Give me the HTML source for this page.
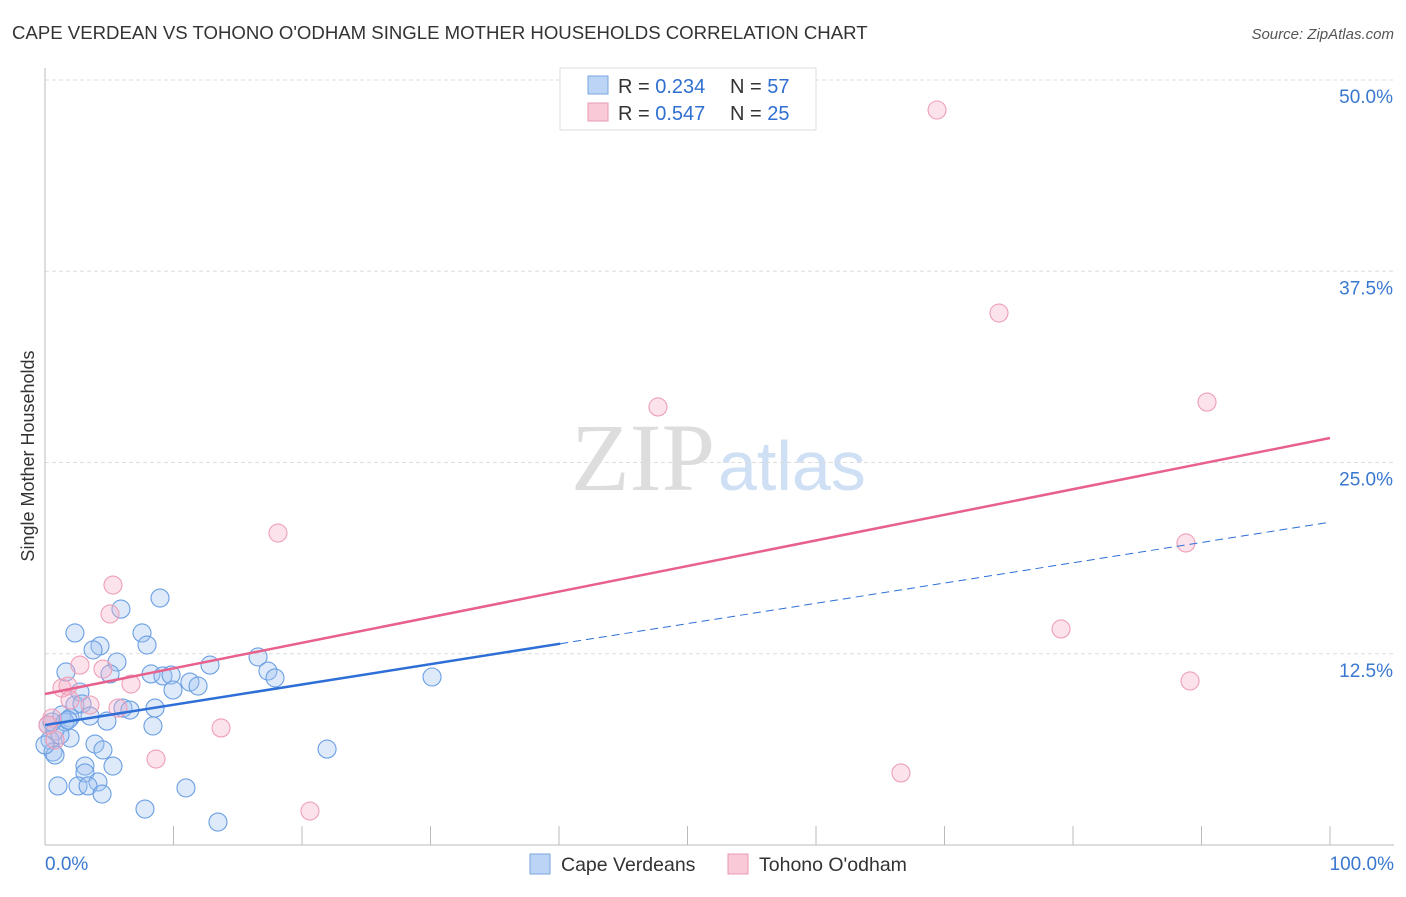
<!DOCTYPE html>
<html><head><meta charset="utf-8"><style>
body{margin:0;background:#fff;font-family:"Liberation Sans",sans-serif;}
</style></head><body>
<svg width="1406" height="892" xmlns="http://www.w3.org/2000/svg" font-family="Liberation Sans, sans-serif">
<text x="12" y="39" font-size="18.6" fill="#333">CAPE VERDEAN VS TOHONO O'ODHAM SINGLE MOTHER HOUSEHOLDS CORRELATION CHART</text>
<text x="1394" y="39" font-size="15" fill="#555" font-style="italic" text-anchor="end">Source: ZipAtlas.com</text>
<text x="715" y="490" font-size="96" font-family="Liberation Serif, serif" fill="#ddd" text-anchor="end">ZIP</text>
<text x="718" y="490" font-size="70" fill="#cfe0f5">atlas</text>
<g id="grid"></g>
<line x1="45" y1="68" x2="45" y2="845" stroke="#bbb"/>
<line x1="45" y1="845" x2="1394" y2="845" stroke="#bbb"/>
<g id="xticks"></g>
<text x="45" y="870" font-size="19" fill="#3a78d0">0.0%</text>
<text x="1394" y="870" font-size="19" fill="#3a78d0" text-anchor="end">100.0%</text>
<text transform="translate(34,456) rotate(-90)" font-size="18" fill="#333" text-anchor="middle">Single Mother Households</text>
<g id="marks"></g>
<g id="lines"></g>
<g>
<rect x="560" y="68" width="256" height="62" fill="#fff" stroke="#ddd"/>
<rect x="588" y="76" width="20" height="18" fill="#bcd4f5" stroke="#7aa6e0"/>
<text x="618" y="93" font-size="20" fill="#333">R = <tspan fill="#2f6fd0">0.234</tspan></text>
<text x="730" y="93" font-size="20" fill="#333">N = <tspan fill="#2f6fd0">57</tspan></text>
<rect x="588" y="103" width="20" height="18" fill="#f9c9d7" stroke="#e89ab2"/>
<text x="618" y="120" font-size="20" fill="#333">R = <tspan fill="#2f6fd0">0.547</tspan></text>
<text x="730" y="120" font-size="20" fill="#333">N = <tspan fill="#2f6fd0">25</tspan></text>
</g>
<g>
<rect x="530" y="854" width="20" height="20" fill="#bcd4f5" stroke="#7aa6e0"/>
<text x="561" y="871" font-size="19.5" fill="#333">Cape Verdeans</text>
<rect x="728" y="854" width="20" height="20" fill="#f9c9d7" stroke="#e89ab2"/>
<text x="759" y="871" font-size="19.5" fill="#333">Tohono O'odham</text>
</g>
</svg>
<script>
const yTicks=[12.5,25,37.5,50];
const yTickLabels=["12.5%","25.0%","37.5%","50.0%"];
const xTicks=[0,10,20,30,40,50,60,70,80,90,100];
const blueX=[8.95,5.91,2.33,7.55,4.28,7.94,3.74,5.60,1.63,5.06,8.25,9.18,9.81,12.84,16.58,17.35,17.90,11.28,9.96,11.91,2.72,1.32,1.95,2.33,2.88,3.50,4.82,6.07,6.61,8.56,8.40,0.23,0.78,0.39,0.62,0.78,1.95,3.89,4.51,3.11,5.29,3.11,4.12,1.01,2.57,3.35,4.44,7.78,10.97,13.46,21.95,30.12,1.56,1.17,0.0,0.54,1.79];
const blueY=[16.14,15.42,13.86,13.86,13.01,13.07,12.75,11.96,11.31,11.18,11.18,11.05,11.11,11.76,12.29,11.37,10.92,10.65,10.13,10.39,10.0,8.50,8.30,9.15,9.22,8.43,8.10,8.95,8.82,8.95,7.78,7.84,7.45,6.86,6.08,5.88,6.99,6.60,6.21,5.16,5.16,4.71,4.12,3.86,3.86,3.86,3.33,2.35,3.73,1.50,6.27,10.98,8.04,7.19,6.54,8.04,8.17];
const pinkX=[69.42,74.24,47.70,90.43,18.13,88.79,5.29,5.06,79.07,2.72,4.51,89.11,6.69,1.32,1.79,3.50,5.68,0.54,13.70,8.64,66.61,20.62,0.78,0.23,1.95];
const pinkY=[48.04,34.77,28.63,28.95,20.39,19.74,16.99,15.10,14.12,11.76,11.50,10.72,10.52,10.26,10.39,9.15,8.95,8.30,7.65,5.62,4.71,2.22,6.86,7.84,9.48];
const pinkTrend=[9.87,26.6];
const blueTrend=[7.84,21.1];
const blueSolidEnd=40.1;
const NS="http://www.w3.org/2000/svg";
const sx=v=>45+v*12.85, sy=v=>845-v*15.3;
function mk(t,a,p){const e=document.createElementNS(NS,t);for(const k in a)e.setAttribute(k,a[k]);document.getElementById(p).appendChild(e);return e;}
yTicks.forEach((t,i)=>{
 const l=mk('line',{x1:45,x2:1394,y1:sy(t),y2:sy(t),stroke:'#ddd','stroke-dasharray':'4,3'},'grid');
 
 
 const tx=mk('text',{x:1393,y:sy(t)+23,'font-size':19,fill:'#3a78d0','text-anchor':'end'},'grid');
 tx.textContent=yTickLabels[i];
 
 
});
xTicks.forEach(t=>{
 const l=mk('line',{x1:sx(t),x2:sx(t),y1:826,y2:845,stroke:'#bbb'},'xticks');
 
 
});
blueX.forEach((x,i)=>{
 const c=mk('circle',{cx:sx(x),cy:sy(blueY[i]),r:9,fill:'rgba(160,195,240,0.35)',stroke:'#6a9fe3','stroke-width':1.1},'marks');
 
 
});
pinkX.forEach((x,i)=>{
 const c=mk('circle',{cx:sx(x),cy:sy(pinkY[i]),r:9,fill:'rgba(245,175,198,0.35)',stroke:'#ee9fb8','stroke-width':1.1},'marks');
 
 
});
const bAt=x=>blueTrend[0]+(blueTrend[1]-blueTrend[0])*x/100;
let l1=mk('line',{x1:sx(0),y1:sy(pinkTrend[0]),x2:sx(100),y2:sy(pinkTrend[1]),stroke:'#e8608c','stroke-width':2.5},'lines');


let l2=mk('line',{x1:sx(0),y1:sy(bAt(0)),x2:sx(blueSolidEnd),y2:sy(bAt(blueSolidEnd)),stroke:'#2d6fd6','stroke-width':2.5},'lines');


let l3=mk('line',{x1:sx(blueSolidEnd),y1:sy(bAt(blueSolidEnd)),x2:sx(100),y2:sy(bAt(100)),stroke:'#2d6fd6','stroke-width':1,'stroke-dasharray':'8,5'},'lines');


</script>
</body></html>
